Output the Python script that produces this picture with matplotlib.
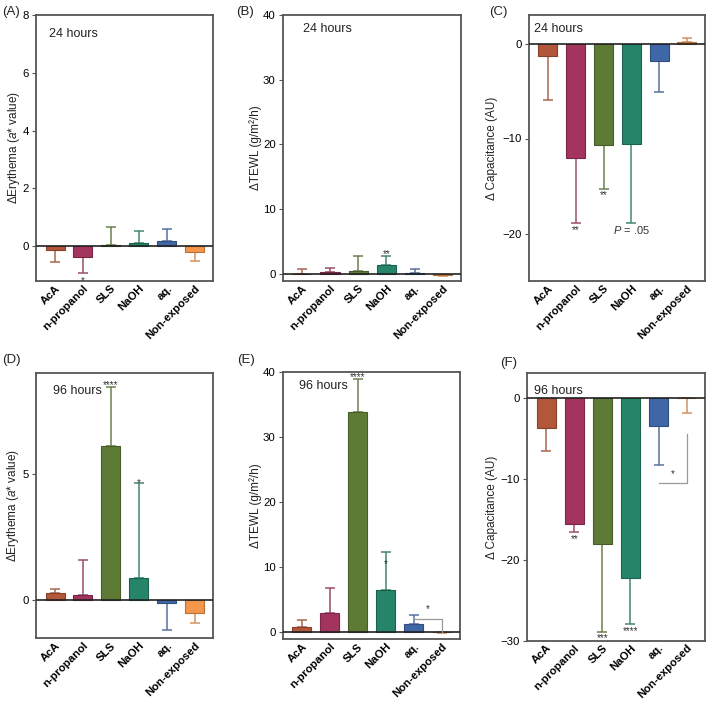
import matplotlib
matplotlib.use('agg')
import matplotlib.pyplot as plt
import matplotlib.colors as mcolors
import numpy as np

plt.rcParams['font.family'] = ['Liberation Sans', 'DejaVu Sans']
plt.rcParams['mathtext.fontset'] = 'custom'
plt.rcParams['mathtext.rm'] = 'Liberation Sans'
plt.rcParams['mathtext.it'] = 'Liberation Sans:italic'

# группы
groups = ['AcA', 'n-propanol', 'SLS', 'NaOH', 'aq.', 'Non-exposed']
bar_colors = ['#B3573A', '#A3345E', '#5E7B36', '#268469', '#3F67A8', '#F4964C']

# 24 часа
ery_24_mean = [-0.13, -0.36, 0.05, 0.12, 0.18, -0.18]
ery_24_sd = [0.40, 0.57, 0.61, 0.42, 0.43, 0.33]
tewl_24_mean = [0.05, 0.30, 0.46, 1.33, 0.15, -0.20]
tewl_24_sd = [0.72, 0.62, 2.29, 1.42, 0.62, 0.15]
cap_24_mean = [-1.35, -12.0, -10.7, -10.6, -1.8, 0.2]
cap_24_sd = [4.55, 6.9, 4.6, 8.3, 3.3, 0.33]

# 96 часов
ery_96_mean = [0.29, 0.21, 6.09, 0.88, -0.09, -0.49]
ery_96_sd = [0.17, 1.37, 2.36, 3.76, 1.09, 0.39]
tewl_96_mean = [0.66, 2.80, 33.8, 6.45, 1.17, -0.10]
tewl_96_sd = [1.17, 3.90, 5.10, 5.75, 1.33, 0.10]
cap_96_mean = [-3.7, -15.56, -18.07, -22.3, -3.5, -0.05]
cap_96_sd = [2.9, 1.0, 10.8, 5.6, 4.8, 1.8]

ery_label = r'ΔErythema ($a$* value)'
tewl_label = 'ΔTEWL (g/m²/h)'
cap_label = 'Δ Capacitance (AU)'

W, H = 709, 703
fig = plt.figure(figsize=(W / 100, H / 100), dpi=100)


def px_axes(left, top, right, bottom):
    return fig.add_axes([left / W, 1 - bottom / H, (right - left) / W, (bottom - top) / H])


def blend(c, other, t):
    a = np.array(mcolors.to_rgb(c))
    b = np.array(mcolors.to_rgb(other))
    return tuple(a * (1 - t) + b * t)


def draw_panel(ax, mean, sd, ylim, yticks, ylabel, label_x, hours, hours_pos):
    x = np.arange(len(groups))
    for i in range(len(groups)):
        m = mean[i]
        lo, hi = (0, sd[i]) if m >= 0 else (sd[i], 0)
        ax.errorbar(x[i], m, yerr=[[lo], [hi]], fmt='none',
                    ecolor=blend(bar_colors[i], '#8a8a8a', 0.3),
                    elinewidth=1.1, capsize=3.6, capthick=1.1, zorder=1)
    ax.bar(x, mean, width=0.68, color=bar_colors,
           edgecolor=[blend(c, '#000000', 0.25) for c in bar_colors],
           linewidth=0.8, zorder=2)
    ax.axhline(0, color='#222222', lw=1.2, zorder=3)
    ax.set_xlim(-0.68, 5.65)
    ax.set_ylim(*ylim)
    ax.set_yticks(yticks)
    ax.set_xticks(x)
    ax.set_xticklabels(groups, rotation=45, ha='right', rotation_mode='anchor',
                       fontweight='bold', fontsize=8.1)
    ax.tick_params(axis='x', length=0, pad=1.5)
    ax.tick_params(axis='y', labelsize=8.2, length=3, width=0.8, color='#555555', pad=2)
    for s in ax.spines.values():
        s.set_color('#555555')
        s.set_linewidth(1.3)
    ax.set_ylabel(ylabel, fontsize=8.5, color='#222222')
    ax.yaxis.set_label_coords(label_x, 0.5)
    ax.text(hours_pos[0], hours_pos[1], hours, transform=ax.transAxes,
            fontsize=9, ha='left', va='center', color='#222222')


def stars(ax, x, y, s):
    ax.annotate(s, (x, y), xytext=(0, -4), textcoords='offset points',
                ha='center', va='baseline', fontsize=7, color='#333333')


# (A)
axA = px_axes(36, 15, 213, 281)
draw_panel(axA, ery_24_mean, ery_24_sd, (-1.2, 8), [0, 2, 4, 6, 8], ery_label,
           -0.08, '24 hours', (0.073, 0.93))
stars(axA, 1, -1.1, '*')

# (B)
axB = px_axes(282.7, 15, 461, 281)
draw_panel(axB, tewl_24_mean, tewl_24_sd, (-1.1, 40), [0, 10, 20, 30, 40], tewl_label,
           -0.116, '24 hours', (0.112, 0.947))
stars(axB, 3, 3.5, '**')

# (C)
axC = px_axes(529, 15, 705, 281)
draw_panel(axC, cap_24_mean, cap_24_sd, (-25, 3), [-20, -10, 0], cap_label,
           -0.176, '24 hours', (0.027, 0.946))
stars(axC, 1, -19.4, '**')
stars(axC, 2, -15.7, '**')
axC.text(3, -19.6, r'$P$ = .05', ha='center', va='center', fontsize=8, color='#333333')

# (D)
axD = px_axes(36, 372.7, 213, 638.3)
draw_panel(axD, ery_96_mean, ery_96_sd, (-1.5, 9), [0, 5], ery_label,
           -0.085, '96 hours', (0.094, 0.932))
stars(axD, 2, 8.6, '****')
stars(axD, 3, 4.75, '*')

# (E)
axE = px_axes(282.7, 371.7, 460, 639.3)
draw_panel(axE, tewl_96_mean, tewl_96_sd, (-1.2, 40), [0, 10, 20, 30, 40], tewl_label,
           -0.116, '96 hours', (0.09, 0.947))
stars(axE, 2, 39.6, '****')
stars(axE, 3, 10.7, '*')
axE.plot([4, 5, 5], [1.93, 1.93, 0], color='#999999', lw=0.9, zorder=4)
stars(axE, 4.5, 3.8, '*')

# (F)
axF = px_axes(527, 373.3, 705, 640.7)
draw_panel(axF, cap_96_mean, cap_96_sd, (-30, 3), [-30, -20, -10, 0], cap_label,
           -0.163, '96 hours', (0.041, 0.935))
stars(axF, 1, -17.2, '**')
stars(axF, 2, -29.4, '***')
stars(axF, 3, -28.5, '****')
axF.plot([4, 5, 5], [-10.5, -10.5, -4.5], color='#999999', lw=0.9, zorder=4)
stars(axF, 4.5, -9.1, '*')

# буквы панелей
for lab, (px, py) in zip(['(A)', '(B)', '(C)', '(D)', '(E)', '(F)'],
                         [(2, 12), (236, 12), (489, 12), (2, 360), (237, 360), (500, 363)]):
    fig.text(px / W, 1 - py / H, lab, fontsize=9.5, ha='left', va='center', color='#222222')

fig.savefig('out.png', dpi=100)
